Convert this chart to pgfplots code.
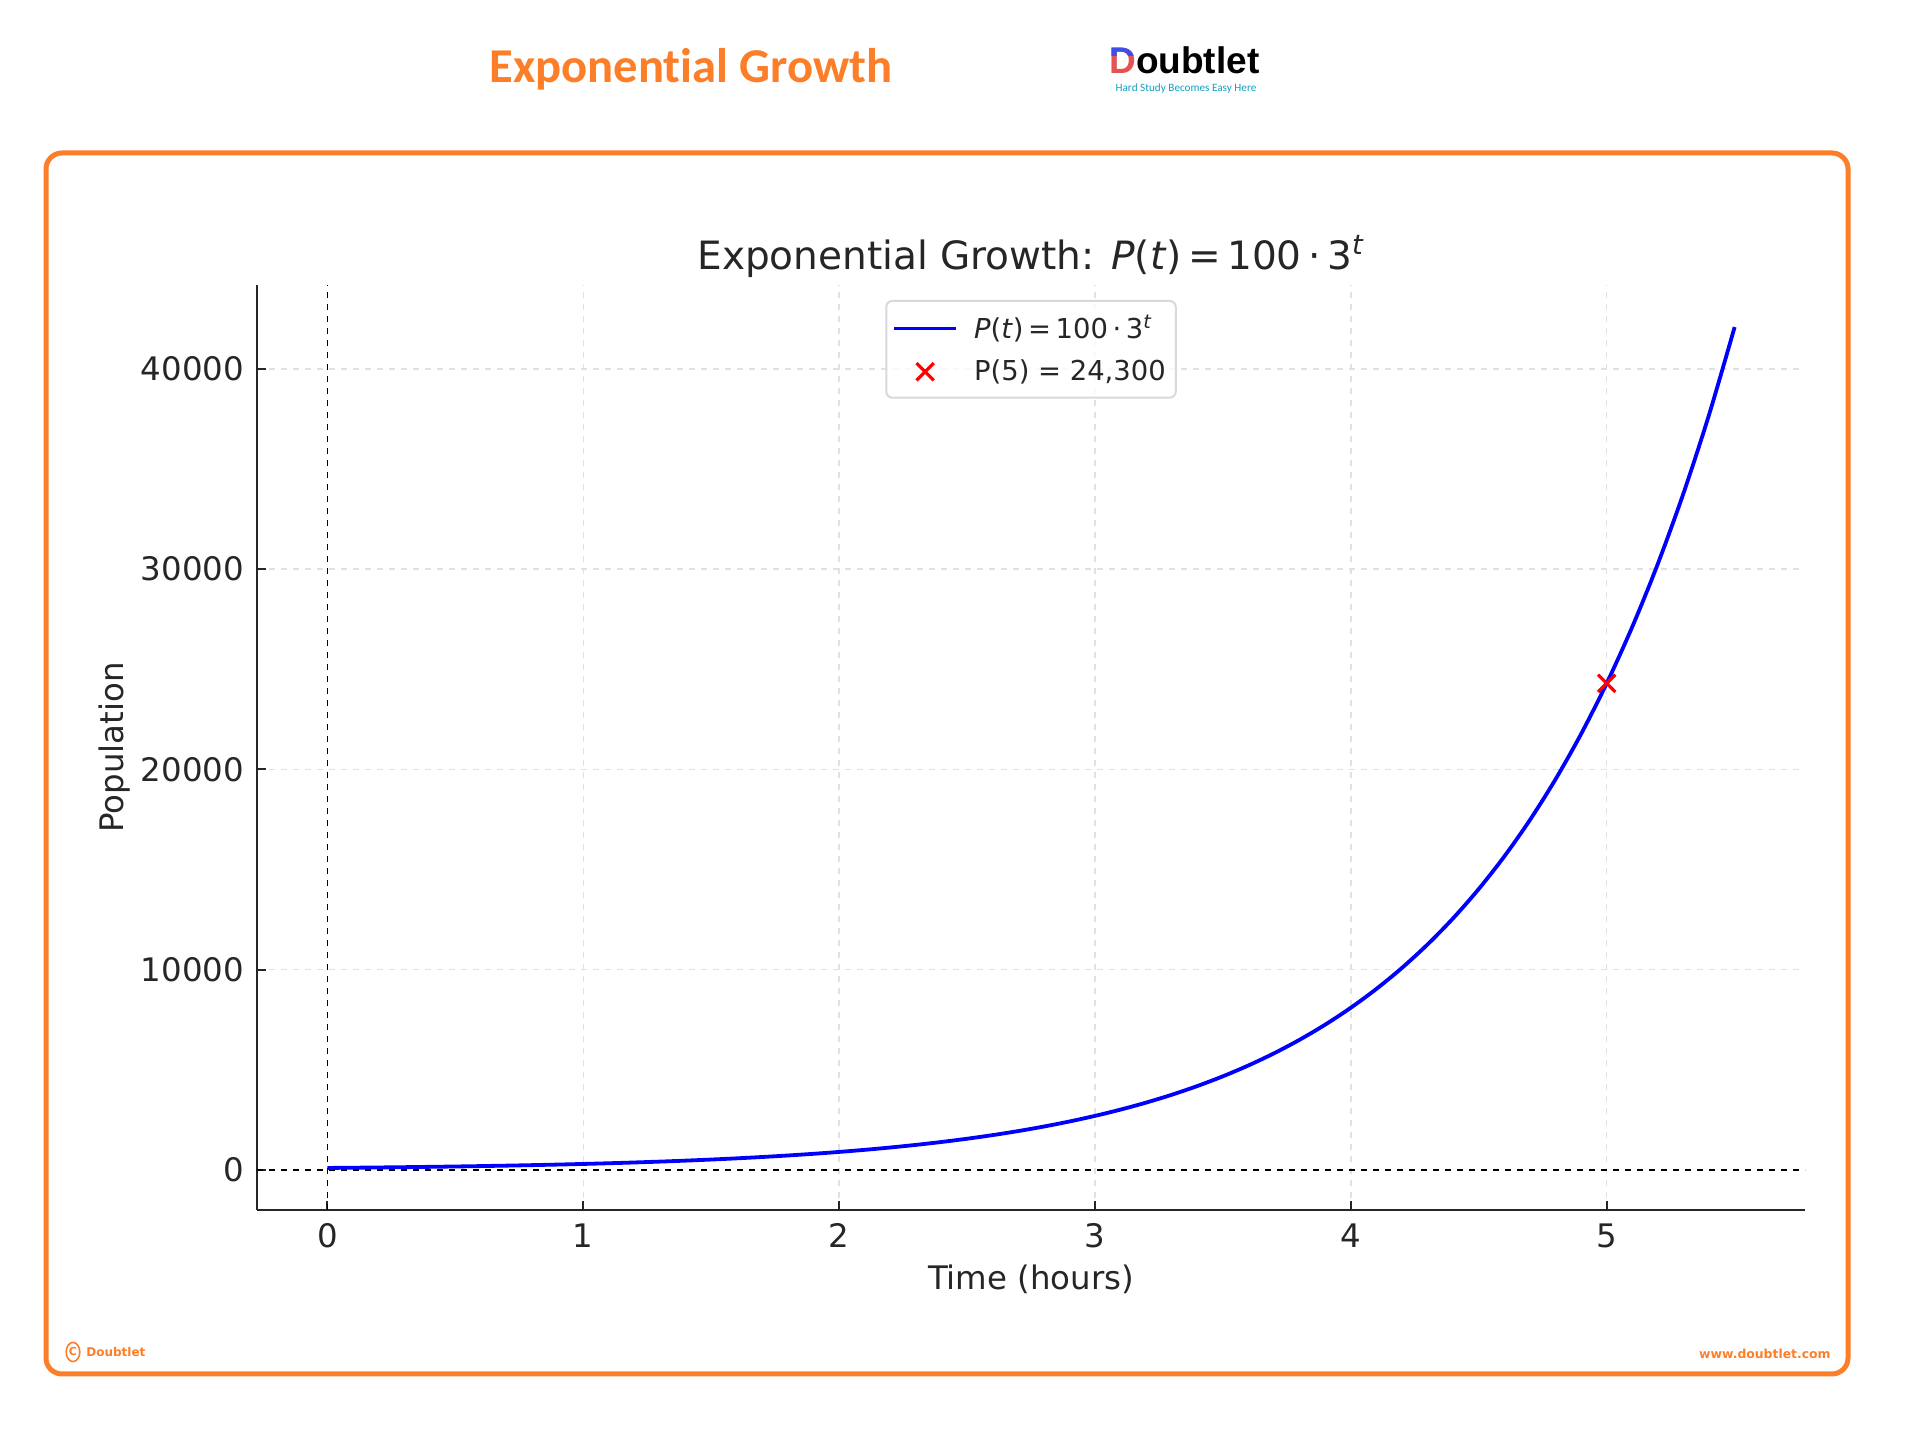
\documentclass[border=0pt]{standalone}
\usepackage{pgfplots}
\pgfplotsset{compat=1.18}
\usepackage{fontspec}
\setmainfont{DejaVu Sans}
\newfontfamily\carlito[Ligatures=NoCommon]{Carlito}
\newfontfamily\logofont{Liberation Sans}
\definecolor{brandorange}{RGB}{253,126,40}
\definecolor{logoblue}{RGB}{60,80,230}
\definecolor{logored}{RGB}{228,82,82}
\definecolor{tagteal}{RGB}{20,160,190}
\definecolor{txt}{RGB}{38,38,38}
\definecolor{gridgray}{RGB}{225,225,225}

\pgfplotsset{
  mylineleg/.style={legend image code/.code={\draw[##1, line width=1.9pt] (0pt,0pt) -- (31pt,0pt); \path[draw=none, fill=none] (0pt,0pt) -- (38pt,0pt);}},
  mymarkleg/.style={legend image code/.code={\draw[##1] plot coordinates {(15.5pt,0pt)}; \path[draw=none, fill=none] (0pt,0pt) -- (38pt,0pt);}},
}

\pgfplotstableread{
t P
0.0 100.0
0.1 111.6
0.2 124.6
0.3 139.0
0.4 155.2
0.5 173.2
0.6 193.3
0.7 215.8
0.8 240.8
0.9 268.8
1.0 300.0
1.1 334.8
1.2 373.7
1.3 417.1
1.4 465.6
1.5 519.6
1.6 580.0
1.7 647.3
1.8 722.5
1.9 806.4
2.0 900.0
2.1 1004.5
2.2 1121.2
2.3 1251.4
2.4 1396.7
2.5 1558.8
2.6 1739.9
2.7 1941.9
2.8 2167.4
2.9 2419.1
3.0 2700.0
3.1 3013.5
3.2 3363.5
3.3 3754.1
3.4 4190.0
3.5 4676.5
3.6 5219.6
3.7 5825.7
3.8 6502.2
3.9 7257.3
4.0 8100.0
4.1 9040.6
4.2 10090.4
4.3 11262.2
4.4 12570.0
4.5 14029.6
4.6 15658.8
4.7 17477.1
4.8 19506.6
4.9 21771.8
5.0 24300.0
5.1 27121.8
5.2 30271.3
5.3 33786.5
5.4 37709.9
5.5 42088.4
}\growth

\begin{document}
\begin{tikzpicture}
\useasboundingbox (0,0) rectangle (959pt,717pt);
\fill[white] (0,0) rectangle (959pt,717pt);
% frame
\draw[brandorange, line width=2.5pt, rounded corners=8pt] (23pt,30pt) rectangle (924pt,640.5pt);
% header
\node[anchor=base, inner sep=0, text=brandorange, font=\carlito\bfseries\fontsize{24.3}{27}\selectfont] at (345.5pt,675.5pt) {Exponential Growth};
\node[anchor=base west, inner sep=0, font=\logofont\bfseries\fontsize{18.5}{20}\selectfont] at (554.5pt,680pt) {\textcolor{logored}{D}oubtlet};
\begin{scope}
\clip (550pt,689pt) rectangle (570pt,702pt);
\node[anchor=base west, inner sep=0, font=\logofont\bfseries\fontsize{18.5}{20}\selectfont, text=logoblue] at (554.5pt,680pt) {D};
\end{scope}
\node[anchor=center, inner sep=0, text=tagteal, font=\carlito\fontsize{5.6}{6}\selectfont] at (593pt,672.5pt) {Hard Study Becomes Easy Here};
% footer
\draw[brandorange, line width=0.8pt] (36.5pt,41pt) ellipse (3.4pt and 4.8pt);
\node[inner sep=0, text=brandorange, font=\bfseries\fontsize{5.5}{6}\selectfont] at (36.5pt,41pt) {C};
\node[anchor=west, inner sep=0, text=brandorange, font=\bfseries\fontsize{6}{7}\selectfont] at (43pt,41pt) {Doubtlet};
\node[anchor=east, inner sep=0, text=brandorange, font=\bfseries\fontsize{6.2}{7}\selectfont] at (915.5pt,40pt) {www.doubtlet.com};
% chart title
\node[anchor=base, inner sep=0, text=txt, font=\fontsize{19.5}{22}\selectfont] at (515.5pt,582pt) {Exponential Growth: \textit{P}(\textit{t})\,=\,100\,·\,3\textsuperscript{\textit{t}}};

\begin{axis}[
  at={(128.5pt,112pt)}, anchor=south west,
  width=774pt, height=462.5pt, scale only axis,
  xmin=-0.275, xmax=5.775, ymin=-1999, ymax=44187,
  axis lines=left,
  axis line style={-, line width=1.2pt, color=txt},
  tick align=inside,
  major tick length=4.5pt,
  tick style={line width=1pt, color=txt},
  xtick={0,1,2,3,4,5},
  ytick={0,10000,20000,30000,40000},
  scaled y ticks=false,
  /pgf/number format/assume math mode=true,
  yticklabel style={/pgf/number format/1000 sep={}, inner sep=0pt, xshift=-6.3pt},
  xticklabel style={inner sep=0pt, yshift=-6.5pt},
  ticklabel style={font=\fontsize{16.2}{18}\selectfont, text=txt},
  grid=major,
  grid style={dashed, color=gridgray, line width=0.7pt},
  xlabel={Time (hours)},
  ylabel={Population},
  label style={font=\fontsize{16.2}{18}\selectfont, text=txt},
  xlabel style={at={(axis description cs:0.5,-0.0585)}, anchor=north, inner sep=0pt},
  ylabel style={at={(axis description cs:-0.1027,0.5)}, anchor=north, inner sep=0pt},
  legend style={at={(0.5,0.9838)}, anchor=north, draw=gray!30, line width=1pt,
    rounded corners=3pt, fill=white, fill opacity=0.8, text opacity=1,
    font=\fontsize{13.7}{16}\selectfont, text=txt, inner xsep=3pt, inner ysep=5pt,
    row sep=5pt},
  legend cell align=left,
]
\addplot[black, dashed, line width=0.6pt, forget plot] coordinates {(0,-1999) (0,44187)};
\addplot[black, dashed, line width=0.6pt, forget plot] coordinates {(-0.275,0) (5.775,0)};
\addplot[blue, line width=1.9pt, smooth, mylineleg]
  table[x=t, y=P] {\growth};
\addlegendentry{\textit{P}(\textit{t})\,=\,100\,·\,3\textsuperscript{\textit{t}}}
\addplot[only marks, mark=x, mark size=6.1pt, red, mark options={line width=1.6pt}, mymarkleg]
  coordinates {(5,24300)};
\addlegendentry{P(5) = 24,300}
\end{axis}
\end{tikzpicture}
\end{document}
